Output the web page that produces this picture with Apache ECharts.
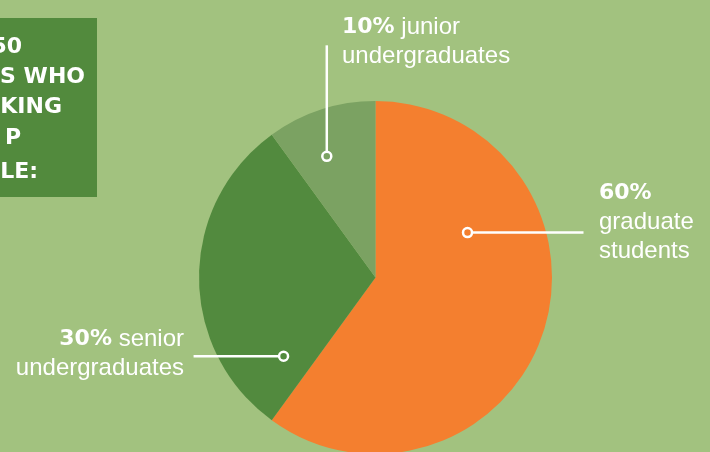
<!DOCTYPE html>
<html>
<head>
<meta charset="utf-8">
<script src="https://cdn.jsdelivr.net/npm/echarts@6/dist/echarts.min.js"></script>
<style>
html,body{margin:0;padding:0;background:#a2c27f;}
#chart{width:710px;height:452px;}
</style>
</head>
<body>
<div id="chart"></div>
<script>
// data
var categories=['graduate students','senior undergraduates','junior undergraduates'];
var shares=[60,30,10];
var colors=['#f47f2f','#528a3e','#7ba262'];
// cropped heading in the box (only the visible part)
var boxLines=['50','S WHO','KING','P','LE:'];

var cx=375.5,cy=277.5,R=176.5;
// where the little rings sit: angle clockwise from top, fraction of radius
var ringAngle=[64,229.4,338.1];
var ringFrac=[0.58,0.686,0.74];
// leader direction and length
var leader=[['h',116],['h',-90],['v',-111]];
// label boxes: x, top y, align
var labelBox=[[599,178.5,'left'],[184,324.5,'right'],[342,13,'left']];

function ringPos(i){
	var a=ringAngle[i]*Math.PI/180,r=R*ringFrac[i];
	return [cx+r*Math.sin(a),cy-r*Math.cos(a)];
}
function leaderPts(i){
	var p=ringPos(i),e;
	if(leader[i][0]=='h'){
		e=[p[0]+leader[i][1],p[1]];
	}else{
		e=[p[0],p[1]+leader[i][1]];
	}
	return [p,e];
}

var myChart=echarts.init(document.getElementById('chart'));

var graphics=[{
	type:'rect',
	shape:{x:0,y:18,width:97,height:179},
	style:{fill:'#528a3d'},
	z:1
}];
var boxRight=[22,85,62,21,38];
var boxY=[47,77,107.5,138,172.5];
for(var k=0;k<boxLines.length;k++){
	graphics.push({
		type:'text',
		x:boxRight[k],y:boxY[k],
		style:{text:boxLines[k],fill:'#fff',font:'bold 22px "DejaVu Sans"',align:'right',verticalAlign:'middle'},
		z:2
	});
}
//引线和小圆圈
for(var i=0;i<shares.length;i++){
	var p=ringPos(i);
	graphics.push({
		type:'polyline',
		shape:{points:leaderPts(i)},
		style:{stroke:'#fff',lineWidth:2.5,fill:null},
		z:99
	});
	graphics.push({
		type:'circle',
		shape:{cx:p[0],cy:p[1],r:4.5},
		style:{fill:colors[i],stroke:'#fff',lineWidth:2.5},
		z:100
	});
}

var option={
	backgroundColor:'#a2c27f',
	animation:false,
	graphic:graphics,
	series:[{
		type:'pie',
		center:[cx,cy],
		radius:R,
		startAngle:90,
		clockwise:true,
		color:colors,
		emphasis:{disabled:true},
		itemStyle:{borderWidth:0},
		data:categories.map(function(c,i){return {name:c,value:shares[i]};}),
		label:{
			show:true,
			position:'outside',
			overflow:'none',
			formatter:function(p){
				var w=p.name.split(' ');
				if(p.dataIndex==0){
					return '{p|'+p.value+'%}\n{t|'+w[0]+'}\n{t|'+w[1]+'}';
				}
				return '{p|'+p.value+'%}{t| '+w[0]+'}\n{t|'+w[1]+'}';
			},
			rich:{
				p:{fontFamily:'DejaVu Sans',fontWeight:'bold',fontSize:22,lineHeight:29,color:'#fff'},
				t:{fontFamily:'Liberation Sans',fontSize:24,lineHeight:29,color:'#fff'}
			}
		},
		labelLine:{show:false},
		labelLayout:function(params){
			var i=params.dataIndex;
			return {
				x:labelBox[i][0],
				y:labelBox[i][1],
				align:labelBox[i][2],
				verticalAlign:'top'
			};
		}
	}]
};
myChart.setOption(option);
</script>
</body>
</html>
